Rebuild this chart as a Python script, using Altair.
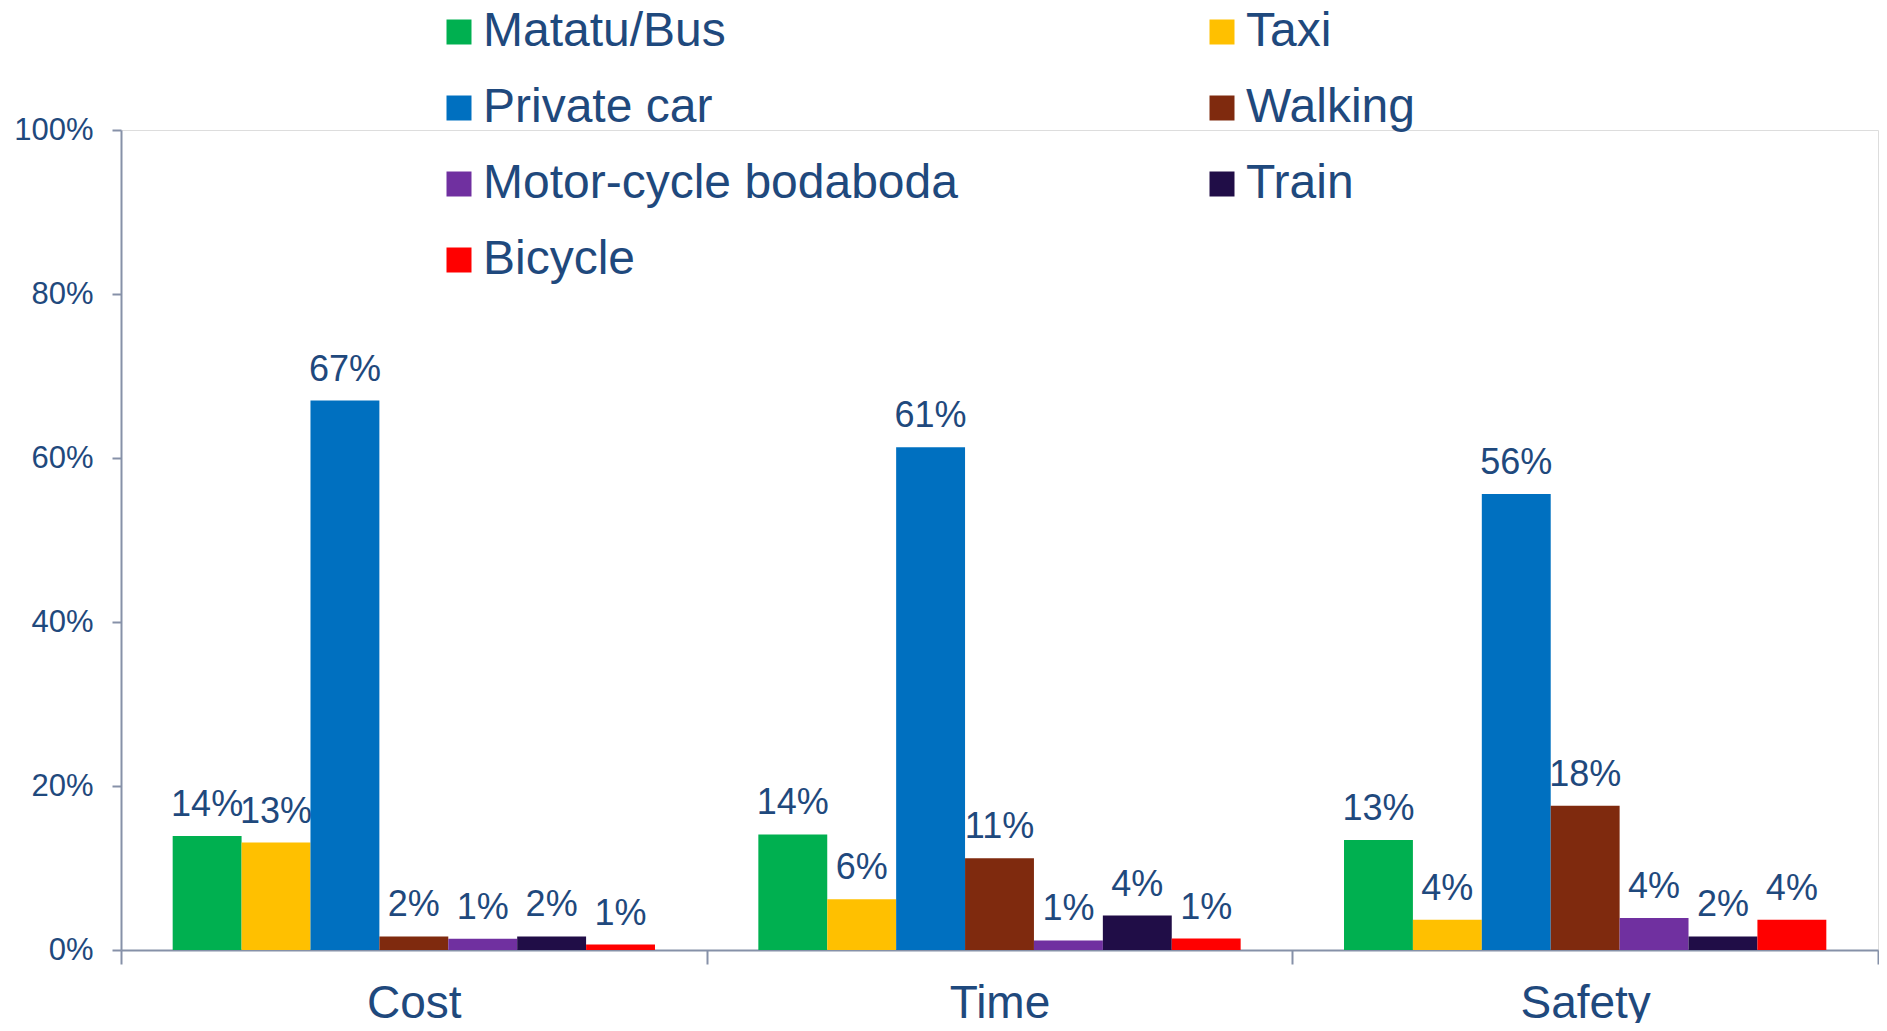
import altair as alt
import pandas as pd

categories = ["Cost", "Time", "Safety"]
modes = ["Matatu/Bus", "Taxi", "Private car", "Walking",
         "Motor-cycle bodaboda", "Train", "Bicycle"]
colors = ["#00B050", "#FFC000", "#0070C0", "#7F2A0E",
          "#7030A0", "#200D47", "#FF0000"]
# legend reads row by row in two columns: Vega fills column by column
legend_order = ["Matatu/Bus", "Private car", "Motor-cycle bodaboda", "Bicycle",
                "Taxi", "Walking", "Train"]
cost_values = [0.139, 0.131, 0.670, 0.0165, 0.0137, 0.0165, 0.0067]
time_values = [0.141, 0.062, 0.613, 0.112, 0.0116, 0.042, 0.014]
safety_values = [0.134, 0.037, 0.556, 0.176, 0.039, 0.0165, 0.037]

rows = []
for cat, vals in zip(categories, [cost_values, time_values, safety_values]):
    for m, v in zip(modes, vals):
        rows.append({"category": cat, "mode": m, "value": v})
df = pd.DataFrame(rows)

color_of = dict(zip(modes, colors))
legend_colors = [color_of[m] for m in legend_order]

FONT = "Arial, Liberation Sans, sans-serif"
TXT = "#1F497D"
AX = "#8691A8"

base = alt.Chart(df).encode(
    x=alt.X("category:N", sort=categories, title=None,
            scale=alt.Scale(paddingInner=0, paddingOuter=0),
            axis=alt.Axis(labelAngle=0, labelFontSize=46, labelColor=TXT,
                          labelFont=FONT, tickBand="extent", tickSize=14,
                          tickColor=AX, tickWidth=2, domainColor=AX,
                          domainWidth=2, labelPadding=17, labelBaseline="top")),
    xOffset=alt.XOffset("mode:N", sort=modes,
                        scale=alt.Scale(paddingInner=0, paddingOuter=0.75)),
    y=alt.Y("value:Q", title=None,
            scale=alt.Scale(domain=[0, 1], nice=False),
            axis=alt.Axis(format=".0%", values=[0, 0.2, 0.4, 0.6, 0.8, 1.0],
                          labelFontSize=31, labelColor=TXT, labelFont=FONT,
                          tickSize=9, tickColor=AX, tickWidth=2,
                          domainColor=AX, domainWidth=2, labelPadding=19,
                          grid=False)),
)

bars = base.mark_bar().encode(
    color=alt.Color("mode:N",
                    scale=alt.Scale(domain=legend_order, range=legend_colors),
                    legend=alt.Legend(title=None, orient="none",
                                      legendX=314, legendY=-122, padding=0,
                                      columns=2, symbolType="square",
                                      symbolSize=625, symbolStrokeWidth=0,
                                      labelFontSize=48, labelColor=TXT,
                                      labelFont=FONT, labelOffset=0,
                                      labelLimit=1000, rowPadding=28,
                                      columnPadding=240))
)

labels = base.mark_text(dy=-20, baseline="alphabetic", align="center",
                        fontSize=36, color=TXT, font=FONT).encode(
    text=alt.Text("value:Q", format=".0%")
)

chart = alt.layer(bars, labels).properties(
    width=1757, height=820,
    autosize=alt.AutoSizeParams(type="none"),
    padding={"left": 113, "top": 122, "right": 1, "bottom": 73},
).configure_view(stroke=None).configure(background="white")

chart.save("out.html", embed_options={"renderer": "svg", "actions": False})
